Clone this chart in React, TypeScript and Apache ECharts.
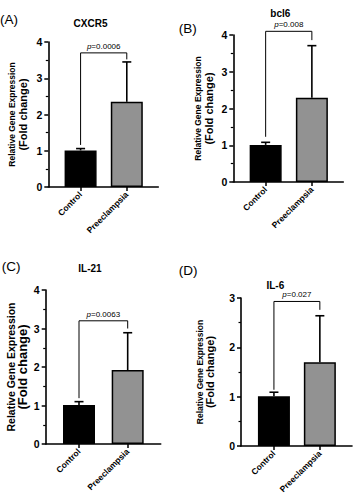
import React, { useEffect, useRef } from "react";
import * as echarts from "echarts";

const categories = ["Control", "Preeclampsia"];
const genes = ["CXCR5", "bcl6", "IL-21", "IL-6"];
const panelLetters = ["(A)", "(B)", "(C)", "(D)"];

const cxcr5Mean = [1.01, 2.35];
const cxcr5ErrTop = [1.06, 3.45];
const bcl6Mean = [1.01, 2.29];
const bcl6ErrTop = [1.08, 3.71];
const il21Mean = [1.01, 1.92];
const il21ErrTop = [1.1, 2.89];
const il6Mean = [1.01, 1.7];
const il6ErrTop = [1.09, 2.64];

const pValues = ["0.0006", "0.008", "0.0063", "0.027"];
const bracketLevels = [3.7, 4.1, 3.2, 2.93];
const bracketLeftEnds = [1.16, 1.23, 1.19, 1.14];
const bracketRightEnds = [3.52, 3.86, 3.0, 2.76];
const yMaxes = [4, 4, 4, 3];
const yTickStep = 1;

const means = [cxcr5Mean, bcl6Mean, il21Mean, il6Mean];
const errTops = [cxcr5ErrTop, bcl6ErrTop, il21ErrTop, il6ErrTop];

// layout (pixels) per panel
const layouts = [
  { left: 48.3, top: 42, width: 110, height: 145, xMin: 0.301, xMax: 2.682, nameGap: 20, relSize: 8.5, foldSize: 11, letter: [0, 19.7], title: [90.5, 23.3] },
  { left: 233.3, top: 35, width: 110, height: 147, xMin: 0.3, xMax: 2.68, nameGap: 19, relSize: 8.5, foldSize: 11, letter: [178.7, 28.3], title: [280.3, 13.3] },
  { left: 45.7, top: 290, width: 115, height: 154, xMin: 0.316, xMax: 2.678, nameGap: 16, relSize: 10.5, foldSize: 13, letter: [1.7, 266.7], title: [90, 268.3] },
  { left: 241, top: 298, width: 111, height: 148, xMin: 0.283, xMax: 2.7, nameGap: 25, relSize: 8.5, foldSize: 11, letter: [178.7, 270], title: [275.3, 285] },
];

const FONT = "'Liberation Sans', Arial, sans-serif";
const BAR_COLORS = ["#000000", "#929292"];

export default function App() {
  const ref = useRef<HTMLDivElement>(null);

  useEffect(() => {
    if (!ref.current) return;
    const chart = echarts.init(ref.current, null, { renderer: "svg" });

    const grids: any[] = [];
    const xAxes: any[] = [];
    const yAxes: any[] = [];
    const series: any[] = [];
    const graphics: any[] = [];

    layouts.forEach((L, i) => {
      grids.push({ left: L.left, top: L.top, width: L.width, height: L.height, containLabel: false });
      xAxes.push({
        type: "value",
        gridIndex: i,
        min: L.xMin,
        max: L.xMax,
        splitLine: { show: false },
        axisLine: { show: true, onZero: true, lineStyle: { color: "#000", width: 1.6 } },
        axisTick: { show: true, customValues: [1, 2], length: 4, lineStyle: { color: "#000", width: 1.5 } },
        axisLabel: {
          customValues: [1, 2],
          formatter: (v: number) => categories[Math.round(v) - 1] || "",
          rotate: 45,
          margin: 6,
          color: "#000",
          fontFamily: FONT,
          fontWeight: "bold",
          fontSize: 8.5,
        },
      });
      yAxes.push({
        type: "value",
        gridIndex: i,
        min: 0,
        max: yMaxes[i],
        interval: yTickStep,
        splitLine: { show: false },
        axisLine: { show: true, lineStyle: { color: "#000", width: 1.6 } },
        axisTick: { show: true, length: 4, lineStyle: { color: "#000", width: 1.5 } },
        minorTick: { show: true, splitNumber: 2, length: 2.5, lineStyle: { color: "#000", width: 1.2 } },
        axisLabel: { color: "#000", fontFamily: FONT, fontWeight: "bold", fontSize: 10.5, margin: 6 },
        name: "{a|Relative Gene Expression}\n{b|(Fold change)}",
        nameLocation: "middle",
        nameRotate: 90,
        nameGap: L.nameGap,
        nameTextStyle: {
          color: "#000",
          fontFamily: FONT,
          fontWeight: "bold",
          rich: {
            a: { fontSize: L.relSize, fontWeight: "bold", fontFamily: FONT, color: "#000", lineHeight: L.relSize + 0.5 },
            b: { fontSize: L.foldSize, fontWeight: "bold", fontFamily: FONT, color: "#000", lineHeight: L.foldSize + 0.5 },
          },
        },
      });

      series.push({
        type: "bar",
        xAxisIndex: i,
        yAxisIndex: i,
        barWidth: 32,
        data: categories.map((c, k) => ({
          value: [k + 1, means[i][k]],
          name: c,
          itemStyle: { color: BAR_COLORS[k], borderColor: "#000", borderWidth: 1.5 },
        })),
        z: 2,
      });

      series.push({
        type: "custom",
        xAxisIndex: i,
        yAxisIndex: i,
        data: categories.map((c, k) => [k + 1, means[i][k], errTops[i][k]]),
        renderItem: (params: any, api: any) => {
          const p0 = api.coord([api.value(0), api.value(1)]);
          const p1 = api.coord([api.value(0), api.value(2)]);
          const st = { stroke: "#000", lineWidth: 1.6 };
          return {
            type: "group",
            children: [
              { type: "line", shape: { x1: p0[0], y1: p0[1], x2: p1[0], y2: p1[1] }, style: st },
              { type: "line", shape: { x1: p1[0] - 4.5, y1: p1[1], x2: p1[0] + 4.5, y2: p1[1] }, style: st },
            ],
          };
        },
        z: 3,
      });

      series.push({
        type: "custom",
        xAxisIndex: i,
        yAxisIndex: i,
        clip: false,
        data: [[1, 2, bracketLevels[i], bracketLeftEnds[i], bracketRightEnds[i]]],
        renderItem: (params: any, api: any) => {
          const a = api.coord([api.value(0), api.value(3)]);
          const b = api.coord([api.value(0), api.value(2)]);
          const c = api.coord([api.value(1), api.value(2)]);
          const d = api.coord([api.value(1), api.value(4)]);
          return {
            type: "group",
            children: [
              {
                type: "polyline",
                shape: { points: [a, b, c, d] },
                style: { stroke: "#000", lineWidth: 1, fill: "none" },
              },
              {
                type: "text",
                x: (b[0] + c[0]) / 2,
                y: b[1] - 2.5,
                style: {
                  text: "{i|p}=" + pValues[i],
                  align: "center",
                  verticalAlign: "bottom",
                  fontFamily: FONT,
                  fontSize: 8,
                  fill: "#000",
                  rich: { i: { fontStyle: "italic", fontFamily: FONT, fontSize: 8, fill: "#000" } },
                },
              },
            ],
          };
        },
        z: 4,
      });

      graphics.push({
        type: "text",
        x: L.letter[0],
        y: L.letter[1],
        style: { text: panelLetters[i], fontFamily: FONT, fontSize: 13.5, fill: "#000", align: "left", verticalAlign: "middle" },
      });
      graphics.push({
        type: "text",
        x: L.title[0],
        y: L.title[1],
        style: { text: genes[i], fontFamily: FONT, fontSize: 10, fontWeight: "bold", fill: "#000", align: "center", verticalAlign: "middle" },
      });
    });

    chart.setOption({
      animation: false,
      backgroundColor: "#fff",
      grid: grids,
      xAxis: xAxes,
      yAxis: yAxes,
      series,
      graphic: graphics,
    });

    return () => chart.dispose();
  }, []);

  return <div ref={ref} style={{ position: "absolute", left: 0, top: 0, width: 354, height: 500 }} />;
}
